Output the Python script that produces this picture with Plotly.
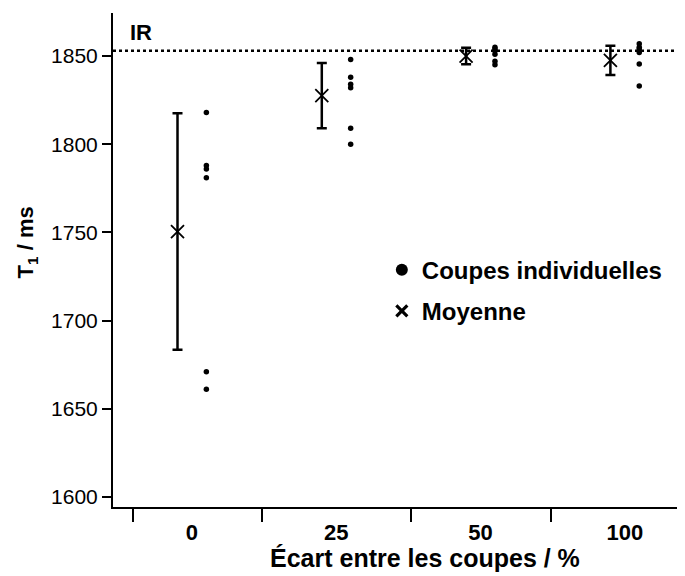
import plotly.graph_objects as go

# ---- data ----
categories = ["0", "25", "50", "100"]
slices_0 = [1818, 1788, 1786, 1781, 1671, 1661]
slices_25 = [1848, 1838, 1834, 1832, 1809, 1800]
slices_50 = [1855, 1854, 1853, 1851, 1847, 1845]
slices_100 = [1857, 1855, 1854, 1852, 1845.5, 1833]
means = [1750.5, 1827.5, 1850, 1847.5]
sds = [67, 18.5, 4.7, 8.3]
ir_value = 1853
y_ticks = [1600, 1650, 1700, 1750, 1800, 1850]

FONT = "Liberation Sans"
slices = [slices_0, slices_25, slices_50, slices_100]
offset = 0.1

dot_x, dot_y = [], []
for i, vals in enumerate(slices):
    dot_x += [i + offset] * len(vals)
    dot_y += vals

fig = go.Figure()
fig.add_trace(go.Scatter(
    x=dot_x, y=dot_y, mode="markers", name="Coupes individuelles",
    legendgroup="a", showlegend=False,
    marker=dict(symbol="circle", size=5.5, color="black"),
))
fig.add_trace(go.Scatter(
    x=[i - offset for i in range(len(categories))], y=means, mode="markers",
    name="Moyenne", legendgroup="b", showlegend=False,
    marker=dict(symbol="x-thin", size=13, color="black",
                line=dict(color="black", width=1.8)),
    error_y=dict(type="data", array=sds, symmetric=True, color="black",
                 thickness=2.5, width=5),
))
# legend entries (larger symbols, as in the reference legend)
fig.add_trace(go.Scatter(
    x=[None], y=[None], mode="markers", name="Coupes individuelles", legendgroup="a",
    marker=dict(symbol="circle", size=12, color="black"),
))
fig.add_trace(go.Scatter(
    x=[None], y=[None], mode="markers", name="Moyenne", legendgroup="b",
    marker=dict(symbol="x-thin", size=11, color="black",
                line=dict(color="black", width=3.2)),
))

fig.add_shape(type="line", xref="paper", x0=0, x1=1, yref="y",
              y0=ir_value, y1=ir_value,
              line=dict(color="black", width=2.5, dash="dot"))

fig.add_annotation(text="<b>IR</b>", xref="paper", yref="paper",
                   x=0.026, y=0.96, xanchor="left", yanchor="middle",
                   showarrow=False, font=dict(family=FONT, size=22, color="black"))
fig.add_annotation(text="<b>Écart entre les coupes / %</b>", xref="paper", yref="paper",
                   x=0.545, y=-0.103, xanchor="center", yanchor="middle",
                   showarrow=False, font=dict(family=FONT, size=25, color="black"))
fig.add_annotation(text="<b>T<sub>1</sub> / ms</b>", xref="paper", yref="paper",
                   x=-0.150, y=0.536, xanchor="center", yanchor="middle",
                   textangle=-90,
                   showarrow=False, font=dict(family=FONT, size=22, color="black"))

# the page body adds an 8 px margin; the figure is sized to fit the window
fig.update_layout(
    width=677, height=568,
    margin=dict(l=105, r=0, t=5, b=69),
    paper_bgcolor="white", plot_bgcolor="white",
    font=dict(family=FONT, color="black"),
    showlegend=True,
    legend=dict(x=0.47, y=0.525, xanchor="left", yanchor="top",
                font=dict(family=FONT, size=24, color="black", weight="bold"),
                itemsizing="trace", traceorder="grouped", tracegroupgap=7,
                bgcolor="rgba(0,0,0,0)"),
    xaxis=dict(
        range=[-0.547, 3.417],
        tickmode="array", tickvals=list(range(len(categories))), ticktext=categories,
        ticks="outside", ticklen=5, tickcolor="rgba(0,0,0,0)",
        tickfont=dict(family=FONT, size=22, color="black", weight="bold"),
        showline=True, linecolor="black", linewidth=2,
        showgrid=False, zeroline=False,
        minor=dict(tickmode="array", tickvals=[-0.41, 0.485, 1.52, 2.49, 3.41],
                   ticks="outside", ticklen=13, tickwidth=2, tickcolor="black",
                   showgrid=False),
    ),
    yaxis=dict(
        range=[1594.3, 1874.4],
        tickmode="array", tickvals=y_ticks,
        ticks="outside", ticklen=9, tickwidth=2, tickcolor="black",
        tickfont=dict(family=FONT, size=21, color="black"),
        showline=True, linecolor="black", linewidth=2,
        showgrid=False, zeroline=False,
    ),
)

fig.write_html("out.html")
